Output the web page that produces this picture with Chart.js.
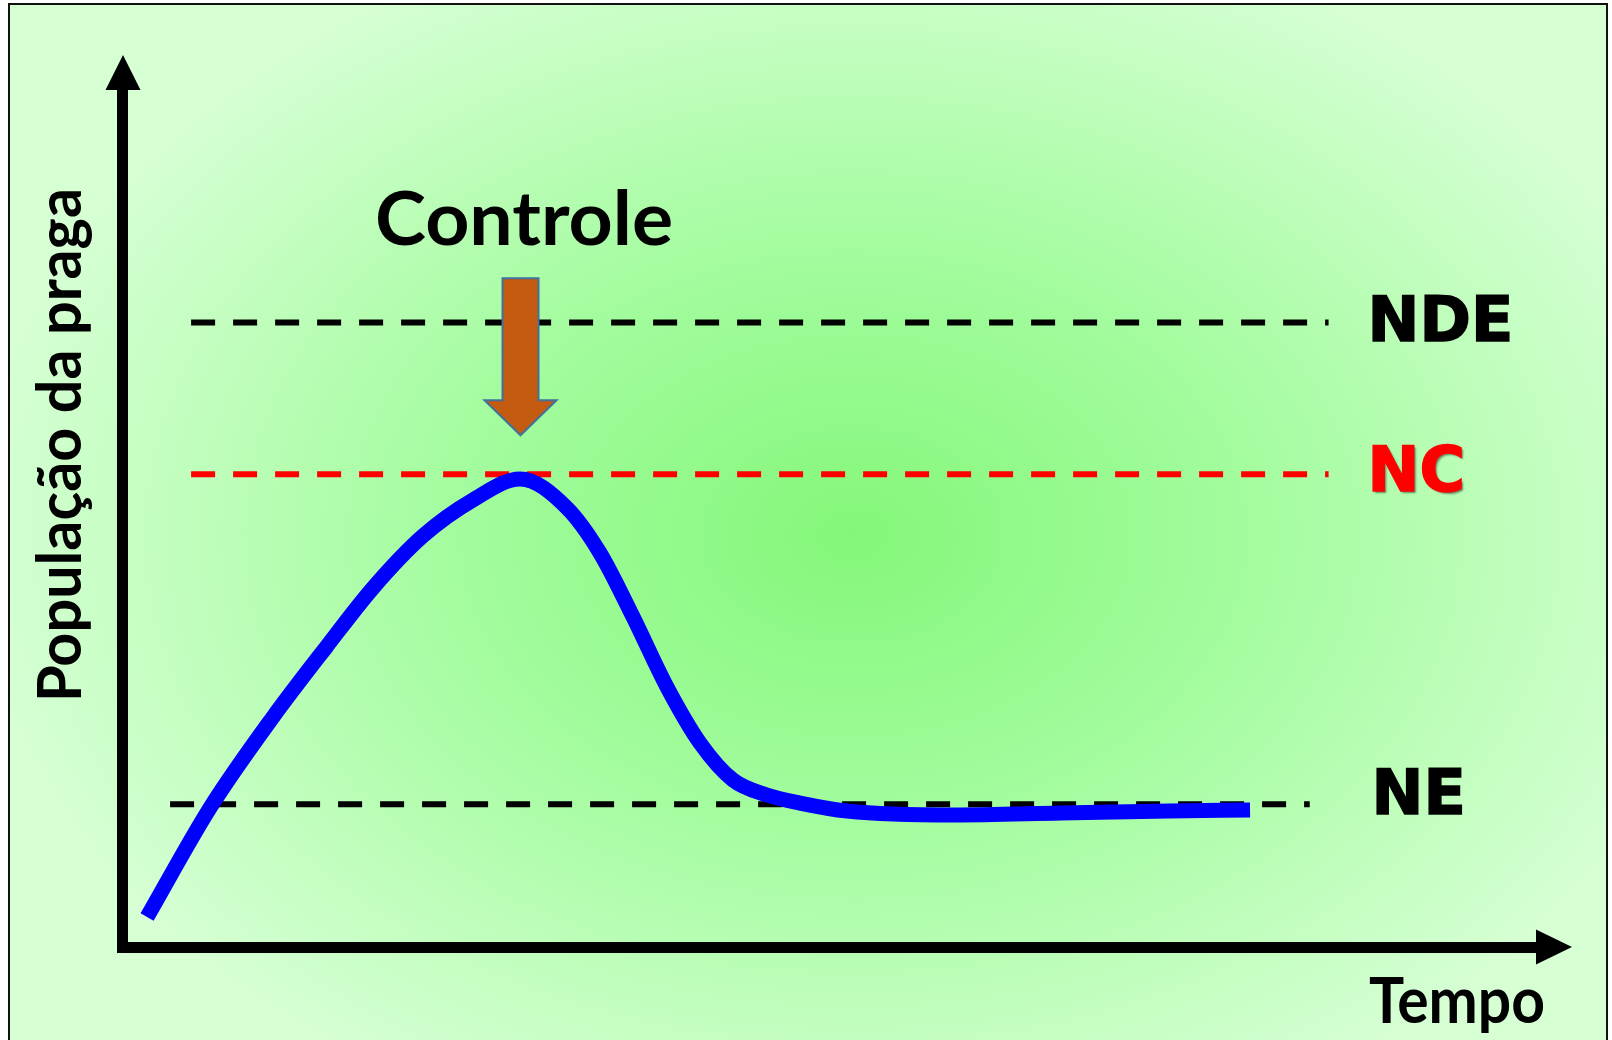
<!DOCTYPE html>
<html>
<head>
<meta charset="utf-8">
<script src="https://cdn.jsdelivr.net/npm/chart.js@4/dist/chart.umd.min.js"></script>
<style>
  html, body { margin: 0; padding: 0; background: #fff; }
  canvas { display: block; }
</style>
</head>
<body>
<canvas id="c" width="1612" height="1040"></canvas>
<script>
// ---- data (x: tempo 0-100, y: população 0-100) ----
const curveX = [1.66, 6.00, 10.35, 14.08, 17.25, 20.70, 24.15, 27.40, 30.64, 32.92, 35.20, 37.54, 39.82, 42.10, 44.44, 46.72, 49.97, 57.35, 64.73, 72.19, 77.78];
const curveY = [3.36, 15.58, 25.78, 33.74, 40.25, 46.08, 50.11, 52.47, 49.22, 44.17, 37.00, 29.15, 22.87, 18.72, 17.04, 16.14, 15.25, 14.80, 15.02, 15.25, 15.36];

const levelNames  = ['NDE', 'NC', 'NE'];
const levelValues = [70, 53, 16];
const levelStartX = [4.7, 4.7, 3.25];
const levelEndX   = [83.2, 83.2, 81.9];
const levelColors = ['#000000', '#ff0000', '#000000'];

const yTitle = 'População da praga';
const xTitle = 'Tempo';
const controlLabel = 'Controle';

// ---- build datasets ----
const curveData = curveX.map((x, i) => ({ x: x, y: curveY[i] }));
const datasets = [{
  label: 'População',
  data: curveData,
  borderColor: '#0000ff',
  borderWidth: 15,
  borderCapStyle: 'butt',
  borderJoinStyle: 'round',
  cubicInterpolationMode: 'monotone',
  pointRadius: 0,
  fill: false,
  clip: false
}];
levelNames.forEach((n, i) => {
  datasets.push({
    label: n,
    data: [{ x: levelStartX[i], y: levelValues[i] }, { x: levelEndX[i], y: levelValues[i] }],
    borderColor: levelColors[i],
    borderWidth: 6,
    borderDash: [24, 18],
    borderCapStyle: 'butt',
    pointRadius: 0,
    fill: false,
    clip: false
  });
});

function drawFitted(ctx, text, font, x, y, targetW, align) {
  ctx.save();
  ctx.font = font;
  const w = ctx.measureText(text).width;
  const s = targetW / w;
  ctx.translate(x, y);
  ctx.scale(s, 1);
  ctx.textAlign = align || 'left';
  ctx.textBaseline = 'alphabetic';
  ctx.fillText(text, 0, 0);
  ctx.restore();
}

const decor = {
  id: 'decor',
  beforeDraw(chart) {
    const ctx = chart.ctx;
    ctx.save();
    ctx.fillStyle = '#ffffff';
    ctx.fillRect(0, 0, chart.width, chart.height);
    ctx.beginPath();
    ctx.rect(9, 4, 1598, 1050);
    ctx.clip();
    ctx.translate(853, 535);
    ctx.scale(1, 0.72);
    const g = ctx.createRadialGradient(0, 0, 0, 0, 0, 880);
    g.addColorStop(0, 'rgb(132,247,122)');
    g.addColorStop(0.45, 'rgb(163,252,158)');
    g.addColorStop(1, 'rgb(214,255,212)');
    ctx.fillStyle = g;
    ctx.fillRect(-2000, -2000, 4000, 4000);
    ctx.restore();
    ctx.save();
    ctx.strokeStyle = '#111';
    ctx.lineWidth = 2;
    ctx.strokeRect(9, 4, 1598, 1050);
    ctx.restore();
  },
  afterDraw(chart) {
    const ctx = chart.ctx;
    const xs = chart.scales.x, ys = chart.scales.y;
    const ca = chart.chartArea;
    const ax = ca.left, ay = ca.bottom;
    ctx.save();
    ctx.fillStyle = '#000';
    ctx.fillRect(ax - 6, ca.top + 30, 11, ay - ca.top - 30 + 6);
    ctx.fillRect(ax - 6, ay - 5, ca.right - 36 - ax + 6, 11);
    ctx.beginPath();
    ctx.moveTo(ax, ca.top);
    ctx.lineTo(ax + 17.5, ca.top + 35);
    ctx.lineTo(ax - 17.5, ca.top + 35);
    ctx.closePath();
    ctx.fill();
    ctx.beginPath();
    ctx.moveTo(ca.right, ay);
    ctx.lineTo(ca.right - 36, ay - 17.5);
    ctx.lineTo(ca.right - 36, ay + 17.5);
    ctx.closePath();
    ctx.fill();

    ctx.textBaseline = 'middle';
    ctx.textAlign = 'left';
    ctx.font = 'bold 62px "DejaVu Sans"';
    const labX = xs.getPixelForValue(levelEndX[0]) + 39;
    const offs = [-1, -2, -9];
    levelNames.forEach((n, i) => {
      ctx.save();
      const py = ys.getPixelForValue(levelValues[i]) + offs[i];
      ctx.fillStyle = levelColors[i];
      ctx.strokeStyle = levelColors[i];
      ctx.lineWidth = 1.5;
      if (levelColors[i] === '#ff0000') {
        ctx.shadowColor = 'rgba(0,0,0,0.45)';
        ctx.shadowOffsetX = 2;
        ctx.shadowOffsetY = 2;
        ctx.shadowBlur = 2;
      }
      const lx = labX + (i === 2 ? 4 : 0);
      ctx.fillText(n, lx, py + 3);
      ctx.shadowColor = 'transparent';
      ctx.strokeText(n, lx, py + 3);
      ctx.restore();
    });

    ctx.fillStyle = '#000';
    drawFitted(ctx, controlLabel, 'bold 74px Lato', 375, 245, 298, 'left');
    drawFitted(ctx, xTitle, 'bold 64px Lato', 1369, 1023, 176, 'left');
    ctx.save();
    ctx.translate(81, 445);
    ctx.rotate(-Math.PI / 2);
    drawFitted(ctx, yTitle, 'bold 62px Lato', 0, 0, 514, 'center');
    ctx.restore();

    let pk = 0;
    curveY.forEach((v, i) => { if (v > curveY[pk]) pk = i; });
    const tx = xs.getPixelForValue(curveX[pk]) + 0.5;
    const ty = ys.getPixelForValue(levelValues[1]) - 39;
    ctx.beginPath();
    ctx.moveTo(tx, ty);
    ctx.lineTo(tx + 36, ty - 35);
    ctx.lineTo(tx + 18, ty - 35);
    ctx.lineTo(tx + 18, ty - 157);
    ctx.lineTo(tx - 18, ty - 157);
    ctx.lineTo(tx - 18, ty - 35);
    ctx.lineTo(tx - 36, ty - 35);
    ctx.closePath();
    ctx.fillStyle = '#c55a11';
    ctx.fill();
    ctx.lineWidth = 2;
    ctx.strokeStyle = '#41719c';
    ctx.stroke();
    ctx.restore();
  }
};

new Chart(document.getElementById('c'), {
  type: 'line',
  data: { datasets: datasets },
  options: {
    responsive: false,
    devicePixelRatio: 1,
    animation: false,
    layout: { padding: { left: 123, top: 55, right: 40, bottom: 93 } },
    plugins: { legend: { display: false }, tooltip: { enabled: false } },
    scales: {
      x: { type: 'linear', min: 0, max: 100, display: false },
      y: { type: 'linear', min: 0, max: 100, display: false }
    }
  },
  plugins: [decor]
});
</script>
</body>
</html>
